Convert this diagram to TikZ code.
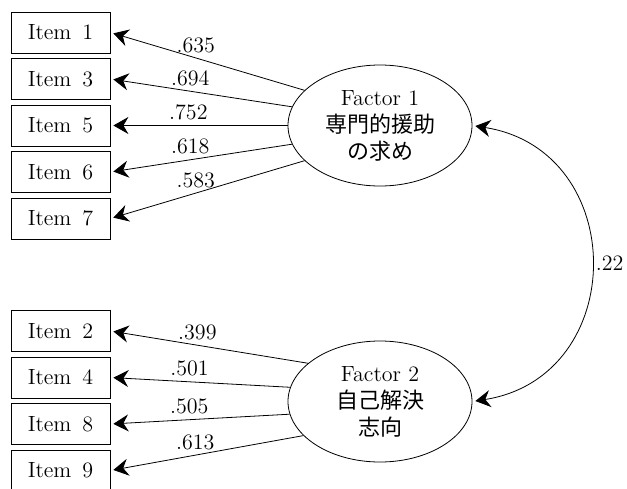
\documentclass[tikz,border=0pt]{standalone}
\usepackage{fontspec}
\newfontfamily\jafont{Noto Sans CJK JP}
\usetikzlibrary{shapes.geometric,arrows.meta,positioning}

\begin{document}
\begin{tikzpicture}[->,>={Stealth[length=7.5pt,width=8.5pt,inset=2.5pt]},shorten >=1.5pt,
            node distance=23.25pt,font=\fontsize{11}{13.5}\selectfont,
            item node/.style={rectangle,draw,minimum width=49.5pt,minimum height=20.5pt,inner sep=0pt},
            factor node/.style={ellipse,draw,minimum width=92pt,minimum height=60.5pt,inner sep=0pt,align=center}]

        \useasboundingbox (0,0) rectangle (313.5pt,-244pt);

        % Observed items
        \node[item node] (i1) at (30.25pt,-16.25pt) {Item\enspace 1};
        \node[item node] (i3) [below of=i1] {Item\enspace 3};
        \node[item node] (i5) [below of=i3] {Item\enspace 5};
        \node[item node] (i6) [below of=i5] {Item\enspace 6};
        \node[item node] (i7) [below of=i6] {Item\enspace 7};

        \node[item node] (i2) at (30.25pt,-165.5pt) {Item\enspace 2};
        \node[item node] (i4) [below of=i2] {Item\enspace 4};
        \node[item node] (i8) [below of=i4] {Item\enspace 8};
        \node[item node] (i9) [below of=i8] {Item\enspace 9};

        % Latent factors
        \node[factor node] (f1) at (190pt,-62.75pt) {Factor 1\\\jafont 専門的援助\\\jafont の求め};
        \node[factor node] (f2) at (190pt,-200.75pt) {Factor 2\\\jafont 自己解決\\\jafont 志向};

        % Loadings
        \path[every node/.style={above,pos=0.56,inner sep=2.5pt}]
            (f1.155) edge node {.635} (i1.east)
            (f1.168) edge node {.694} (i3.east)
            (f1.180) edge node {.752} (i5.east)
            (f1.192) edge node {.618} (i6.east)
            (f1.205) edge node {.583} (i7.east)
            (f2.152) edge node {.399} (i2.east)
            (f2.171) edge node {.501} (i4.east)
            (f2.188) edge node {.505} (i8.east)
            (f2.204) edge node {.613} (i9.east);

        % Factor correlation
        \draw[<->,shorten <=1.5pt] (f1.east) to[out=-9,in=9,looseness=1.48]
            node[right,inner sep=2.5pt] {.22} (f2.east);

\end{tikzpicture}
\end{document}
